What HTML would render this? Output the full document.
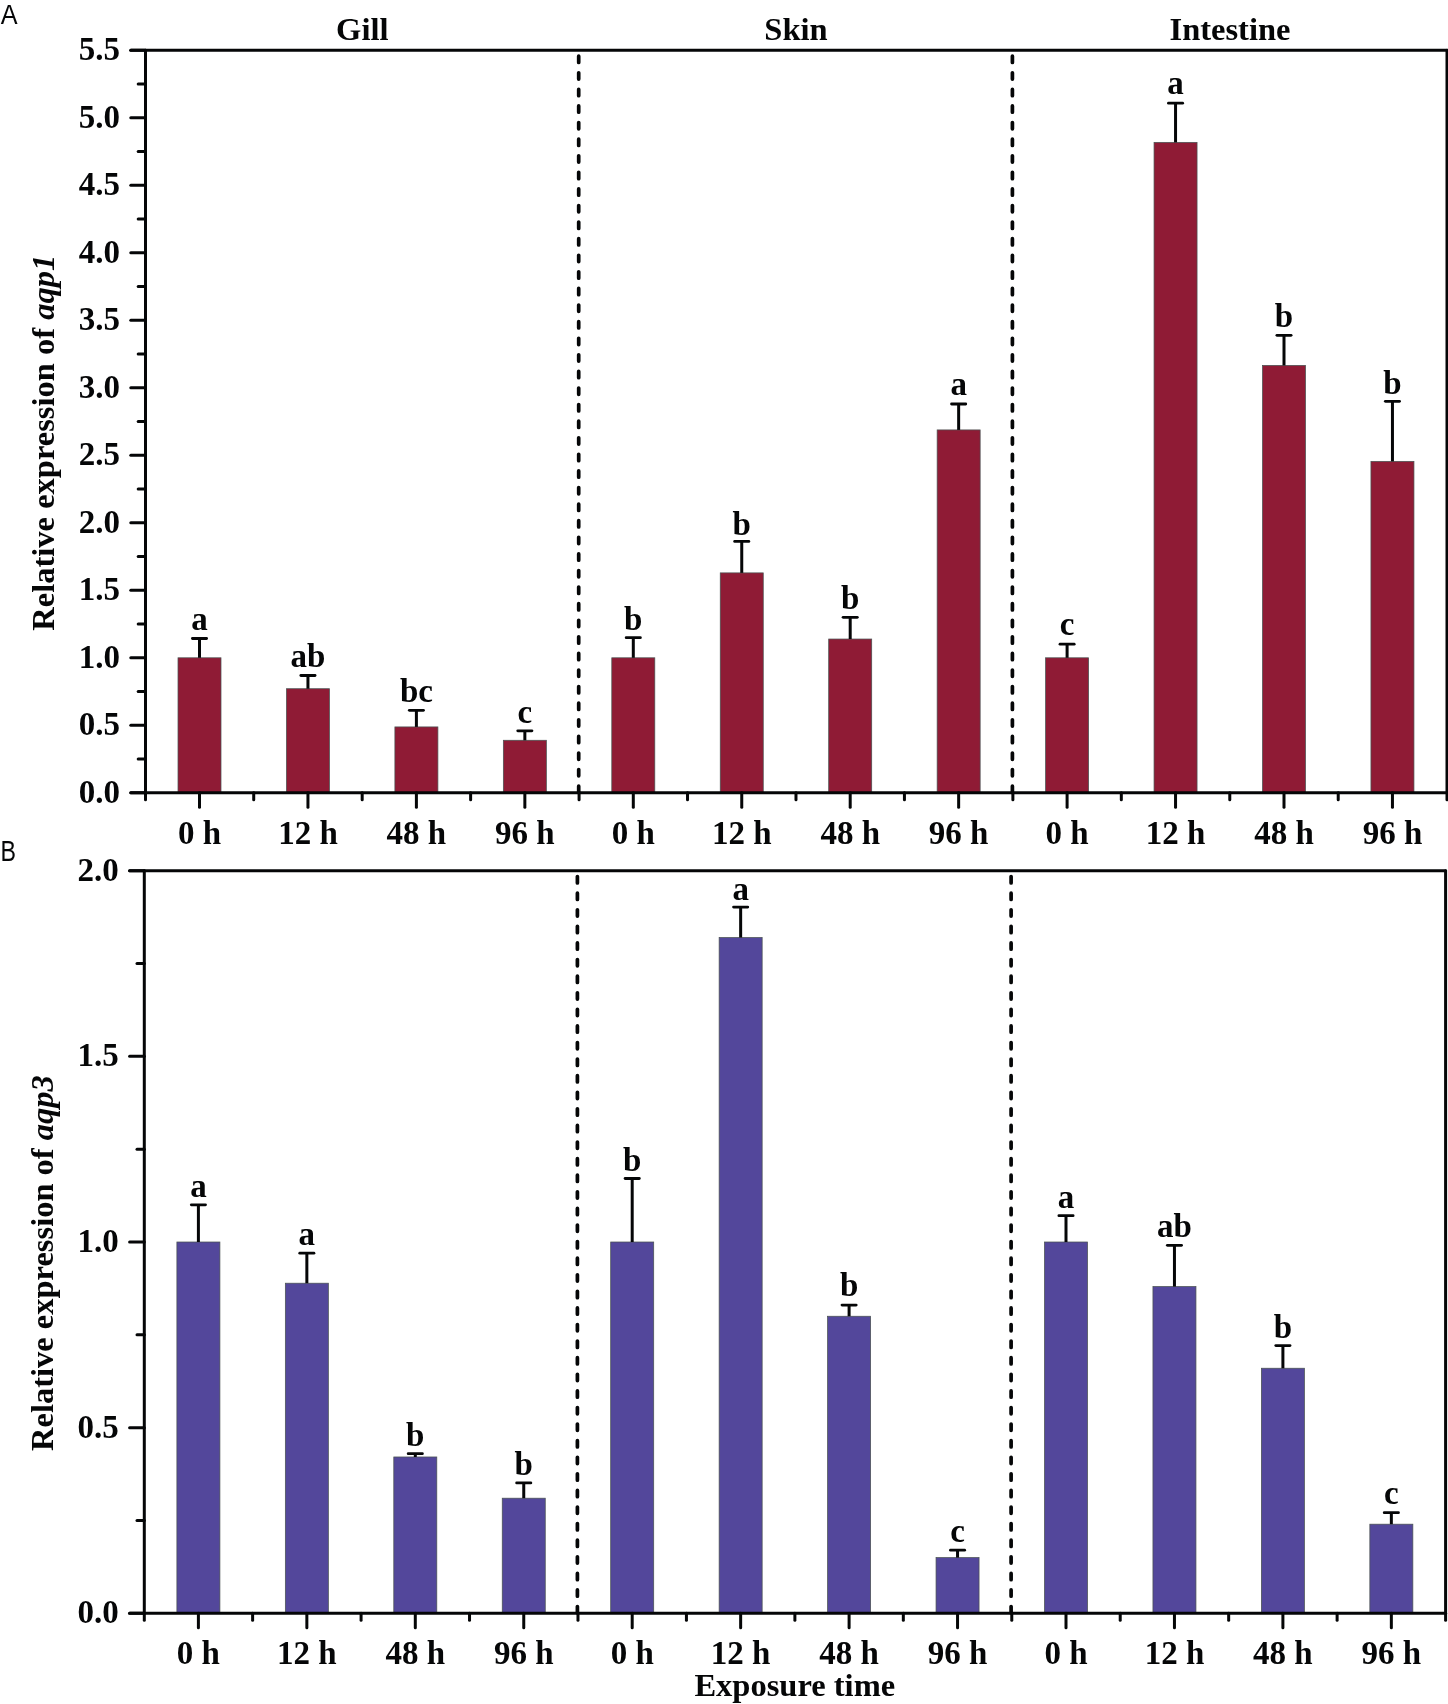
<!DOCTYPE html>
<html><head><meta charset="utf-8"><style>
html,body{margin:0;padding:0;background:#fff;}
body{width:1448px;height:1704px;overflow:hidden;}
svg{display:block;will-change:transform;}
</style></head><body>
<svg width="1448" height="1704" viewBox="0 0 1448 1704" font-family='"Liberation Serif", serif' font-weight="bold" fill="#050607">
<rect x="0" y="0" width="1448" height="1704" fill="#fff"/>
<rect x="178.00" y="657.80" width="43.00" height="135.00" fill="#8f1b35" stroke="#4a5252" stroke-width="0.75"/>
<line x1="199.50" y1="657.80" x2="199.50" y2="638.49" stroke="#050607" stroke-width="3" stroke-linecap="butt" />
<line x1="192.40" y1="638.49" x2="206.60" y2="638.49" stroke="#050607" stroke-width="2.8" stroke-linecap="round" />
<text x="199.50" y="629.80" text-anchor="middle" font-size="33" >a</text>
<rect x="286.45" y="688.71" width="43.00" height="104.09" fill="#8f1b35" stroke="#4a5252" stroke-width="0.75"/>
<line x1="307.95" y1="688.71" x2="307.95" y2="675.48" stroke="#050607" stroke-width="3" stroke-linecap="butt" />
<line x1="300.85" y1="675.48" x2="315.05" y2="675.48" stroke="#050607" stroke-width="2.8" stroke-linecap="round" />
<text x="307.95" y="666.70" text-anchor="middle" font-size="33" >ab</text>
<rect x="394.90" y="726.92" width="43.00" height="65.88" fill="#8f1b35" stroke="#4a5252" stroke-width="0.75"/>
<line x1="416.40" y1="726.92" x2="416.40" y2="710.31" stroke="#050607" stroke-width="3" stroke-linecap="butt" />
<line x1="409.30" y1="710.31" x2="423.50" y2="710.31" stroke="#050607" stroke-width="2.8" stroke-linecap="round" />
<text x="416.40" y="702.10" text-anchor="middle" font-size="33" >bc</text>
<rect x="503.35" y="740.28" width="43.00" height="52.51" fill="#8f1b35" stroke="#4a5252" stroke-width="0.75"/>
<line x1="524.85" y1="740.28" x2="524.85" y2="730.83" stroke="#050607" stroke-width="3" stroke-linecap="butt" />
<line x1="517.75" y1="730.83" x2="531.95" y2="730.83" stroke="#050607" stroke-width="2.8" stroke-linecap="round" />
<text x="524.85" y="722.80" text-anchor="middle" font-size="33" >c</text>
<rect x="611.80" y="657.80" width="43.00" height="135.00" fill="#8f1b35" stroke="#4a5252" stroke-width="0.75"/>
<line x1="633.30" y1="657.80" x2="633.30" y2="637.68" stroke="#050607" stroke-width="3" stroke-linecap="butt" />
<line x1="626.20" y1="637.68" x2="640.40" y2="637.68" stroke="#050607" stroke-width="2.8" stroke-linecap="round" />
<text x="633.30" y="629.80" text-anchor="middle" font-size="33" >b</text>
<rect x="720.25" y="572.88" width="43.00" height="219.91" fill="#8f1b35" stroke="#4a5252" stroke-width="0.75"/>
<line x1="741.75" y1="572.88" x2="741.75" y2="541.43" stroke="#050607" stroke-width="3" stroke-linecap="butt" />
<line x1="734.65" y1="541.43" x2="748.85" y2="541.43" stroke="#050607" stroke-width="2.8" stroke-linecap="round" />
<text x="741.75" y="534.50" text-anchor="middle" font-size="33" >b</text>
<rect x="828.70" y="639.03" width="43.00" height="153.76" fill="#8f1b35" stroke="#4a5252" stroke-width="0.75"/>
<line x1="850.20" y1="639.03" x2="850.20" y2="617.30" stroke="#050607" stroke-width="3" stroke-linecap="butt" />
<line x1="843.10" y1="617.30" x2="857.30" y2="617.30" stroke="#050607" stroke-width="2.8" stroke-linecap="round" />
<text x="850.20" y="609.00" text-anchor="middle" font-size="33" >b</text>
<rect x="937.15" y="429.92" width="43.00" height="362.88" fill="#8f1b35" stroke="#4a5252" stroke-width="0.75"/>
<line x1="958.65" y1="429.92" x2="958.65" y2="404.00" stroke="#050607" stroke-width="3" stroke-linecap="butt" />
<line x1="951.55" y1="404.00" x2="965.75" y2="404.00" stroke="#050607" stroke-width="2.8" stroke-linecap="round" />
<text x="958.65" y="395.20" text-anchor="middle" font-size="33" >a</text>
<rect x="1045.60" y="657.80" width="43.00" height="135.00" fill="#8f1b35" stroke="#4a5252" stroke-width="0.75"/>
<line x1="1067.10" y1="657.80" x2="1067.10" y2="644.16" stroke="#050607" stroke-width="3" stroke-linecap="butt" />
<line x1="1060.00" y1="644.16" x2="1074.20" y2="644.16" stroke="#050607" stroke-width="2.8" stroke-linecap="round" />
<text x="1067.10" y="634.90" text-anchor="middle" font-size="33" >c</text>
<rect x="1154.05" y="142.37" width="43.00" height="650.43" fill="#8f1b35" stroke="#4a5252" stroke-width="0.75"/>
<line x1="1175.55" y1="142.37" x2="1175.55" y2="103.22" stroke="#050607" stroke-width="3" stroke-linecap="butt" />
<line x1="1168.45" y1="103.22" x2="1182.65" y2="103.22" stroke="#050607" stroke-width="2.8" stroke-linecap="round" />
<text x="1175.55" y="93.80" text-anchor="middle" font-size="33" >a</text>
<rect x="1262.50" y="365.39" width="43.00" height="427.41" fill="#8f1b35" stroke="#4a5252" stroke-width="0.75"/>
<line x1="1284.00" y1="365.39" x2="1284.00" y2="335.28" stroke="#050607" stroke-width="3" stroke-linecap="butt" />
<line x1="1276.90" y1="335.28" x2="1291.10" y2="335.28" stroke="#050607" stroke-width="2.8" stroke-linecap="round" />
<text x="1284.00" y="327.30" text-anchor="middle" font-size="33" >b</text>
<rect x="1370.95" y="461.37" width="43.00" height="331.43" fill="#8f1b35" stroke="#4a5252" stroke-width="0.75"/>
<line x1="1392.45" y1="461.37" x2="1392.45" y2="401.30" stroke="#050607" stroke-width="3" stroke-linecap="butt" />
<line x1="1385.35" y1="401.30" x2="1399.55" y2="401.30" stroke="#050607" stroke-width="2.8" stroke-linecap="round" />
<text x="1392.45" y="393.60" text-anchor="middle" font-size="33" >b</text>
<line x1="578.70" y1="56.20" x2="578.70" y2="792.80" stroke="#050607" stroke-width="3.7" stroke-linecap="round" stroke-dasharray="6.3 10.29"/>
<line x1="1012.40" y1="56.20" x2="1012.40" y2="792.80" stroke="#050607" stroke-width="3.7" stroke-linecap="round" stroke-dasharray="6.3 10.29"/>
<line x1="145.50" y1="50.30" x2="145.50" y2="799.80" stroke="#050607" stroke-width="3" stroke-linecap="round" />
<line x1="1447.00" y1="50.30" x2="1447.00" y2="799.80" stroke="#050607" stroke-width="3" stroke-linecap="round" />
<line x1="130.80" y1="50.30" x2="1447.00" y2="50.30" stroke="#050607" stroke-width="3" stroke-linecap="round" />
<line x1="130.80" y1="792.80" x2="1447.00" y2="792.80" stroke="#050607" stroke-width="3" stroke-linecap="round" />
<line x1="130.80" y1="792.80" x2="145.50" y2="792.80" stroke="#050607" stroke-width="3" stroke-linecap="round" />
<text x="120.00" y="802.80" text-anchor="end" font-size="33" >0.0</text>
<line x1="138.20" y1="759.05" x2="145.50" y2="759.05" stroke="#050607" stroke-width="3" stroke-linecap="round" />
<line x1="130.80" y1="725.30" x2="145.50" y2="725.30" stroke="#050607" stroke-width="3" stroke-linecap="round" />
<text x="120.00" y="735.30" text-anchor="end" font-size="33" >0.5</text>
<line x1="138.20" y1="691.55" x2="145.50" y2="691.55" stroke="#050607" stroke-width="3" stroke-linecap="round" />
<line x1="130.80" y1="657.80" x2="145.50" y2="657.80" stroke="#050607" stroke-width="3" stroke-linecap="round" />
<text x="120.00" y="667.80" text-anchor="end" font-size="33" >1.0</text>
<line x1="138.20" y1="624.05" x2="145.50" y2="624.05" stroke="#050607" stroke-width="3" stroke-linecap="round" />
<line x1="130.80" y1="590.30" x2="145.50" y2="590.30" stroke="#050607" stroke-width="3" stroke-linecap="round" />
<text x="120.00" y="600.30" text-anchor="end" font-size="33" >1.5</text>
<line x1="138.20" y1="556.55" x2="145.50" y2="556.55" stroke="#050607" stroke-width="3" stroke-linecap="round" />
<line x1="130.80" y1="522.80" x2="145.50" y2="522.80" stroke="#050607" stroke-width="3" stroke-linecap="round" />
<text x="120.00" y="532.80" text-anchor="end" font-size="33" >2.0</text>
<line x1="138.20" y1="489.05" x2="145.50" y2="489.05" stroke="#050607" stroke-width="3" stroke-linecap="round" />
<line x1="130.80" y1="455.30" x2="145.50" y2="455.30" stroke="#050607" stroke-width="3" stroke-linecap="round" />
<text x="120.00" y="465.30" text-anchor="end" font-size="33" >2.5</text>
<line x1="138.20" y1="421.55" x2="145.50" y2="421.55" stroke="#050607" stroke-width="3" stroke-linecap="round" />
<line x1="130.80" y1="387.80" x2="145.50" y2="387.80" stroke="#050607" stroke-width="3" stroke-linecap="round" />
<text x="120.00" y="397.80" text-anchor="end" font-size="33" >3.0</text>
<line x1="138.20" y1="354.05" x2="145.50" y2="354.05" stroke="#050607" stroke-width="3" stroke-linecap="round" />
<line x1="130.80" y1="320.30" x2="145.50" y2="320.30" stroke="#050607" stroke-width="3" stroke-linecap="round" />
<text x="120.00" y="330.30" text-anchor="end" font-size="33" >3.5</text>
<line x1="138.20" y1="286.55" x2="145.50" y2="286.55" stroke="#050607" stroke-width="3" stroke-linecap="round" />
<line x1="130.80" y1="252.80" x2="145.50" y2="252.80" stroke="#050607" stroke-width="3" stroke-linecap="round" />
<text x="120.00" y="262.80" text-anchor="end" font-size="33" >4.0</text>
<line x1="138.20" y1="219.05" x2="145.50" y2="219.05" stroke="#050607" stroke-width="3" stroke-linecap="round" />
<line x1="130.80" y1="185.30" x2="145.50" y2="185.30" stroke="#050607" stroke-width="3" stroke-linecap="round" />
<text x="120.00" y="195.30" text-anchor="end" font-size="33" >4.5</text>
<line x1="138.20" y1="151.55" x2="145.50" y2="151.55" stroke="#050607" stroke-width="3" stroke-linecap="round" />
<line x1="130.80" y1="117.80" x2="145.50" y2="117.80" stroke="#050607" stroke-width="3" stroke-linecap="round" />
<text x="120.00" y="127.80" text-anchor="end" font-size="33" >5.0</text>
<line x1="138.20" y1="84.05" x2="145.50" y2="84.05" stroke="#050607" stroke-width="3" stroke-linecap="round" />
<line x1="130.80" y1="50.30" x2="145.50" y2="50.30" stroke="#050607" stroke-width="3" stroke-linecap="round" />
<text x="120.00" y="60.30" text-anchor="end" font-size="33" >5.5</text>
<line x1="199.50" y1="792.80" x2="199.50" y2="807.30" stroke="#050607" stroke-width="3" stroke-linecap="round" />
<text x="199.50" y="843.60" text-anchor="middle" font-size="33" >0 h</text>
<line x1="253.72" y1="792.80" x2="253.72" y2="799.80" stroke="#050607" stroke-width="3" stroke-linecap="round" />
<line x1="307.95" y1="792.80" x2="307.95" y2="807.30" stroke="#050607" stroke-width="3" stroke-linecap="round" />
<text x="307.95" y="843.60" text-anchor="middle" font-size="33" >12 h</text>
<line x1="362.18" y1="792.80" x2="362.18" y2="799.80" stroke="#050607" stroke-width="3" stroke-linecap="round" />
<line x1="416.40" y1="792.80" x2="416.40" y2="807.30" stroke="#050607" stroke-width="3" stroke-linecap="round" />
<text x="416.40" y="843.60" text-anchor="middle" font-size="33" >48 h</text>
<line x1="470.62" y1="792.80" x2="470.62" y2="799.80" stroke="#050607" stroke-width="3" stroke-linecap="round" />
<line x1="524.85" y1="792.80" x2="524.85" y2="807.30" stroke="#050607" stroke-width="3" stroke-linecap="round" />
<text x="524.85" y="843.60" text-anchor="middle" font-size="33" >96 h</text>
<line x1="579.08" y1="792.80" x2="579.08" y2="799.80" stroke="#050607" stroke-width="3" stroke-linecap="round" />
<line x1="633.30" y1="792.80" x2="633.30" y2="807.30" stroke="#050607" stroke-width="3" stroke-linecap="round" />
<text x="633.30" y="843.60" text-anchor="middle" font-size="33" >0 h</text>
<line x1="687.52" y1="792.80" x2="687.52" y2="799.80" stroke="#050607" stroke-width="3" stroke-linecap="round" />
<line x1="741.75" y1="792.80" x2="741.75" y2="807.30" stroke="#050607" stroke-width="3" stroke-linecap="round" />
<text x="741.75" y="843.60" text-anchor="middle" font-size="33" >12 h</text>
<line x1="795.98" y1="792.80" x2="795.98" y2="799.80" stroke="#050607" stroke-width="3" stroke-linecap="round" />
<line x1="850.20" y1="792.80" x2="850.20" y2="807.30" stroke="#050607" stroke-width="3" stroke-linecap="round" />
<text x="850.20" y="843.60" text-anchor="middle" font-size="33" >48 h</text>
<line x1="904.43" y1="792.80" x2="904.43" y2="799.80" stroke="#050607" stroke-width="3" stroke-linecap="round" />
<line x1="958.65" y1="792.80" x2="958.65" y2="807.30" stroke="#050607" stroke-width="3" stroke-linecap="round" />
<text x="958.65" y="843.60" text-anchor="middle" font-size="33" >96 h</text>
<line x1="1012.88" y1="792.80" x2="1012.88" y2="799.80" stroke="#050607" stroke-width="3" stroke-linecap="round" />
<line x1="1067.10" y1="792.80" x2="1067.10" y2="807.30" stroke="#050607" stroke-width="3" stroke-linecap="round" />
<text x="1067.10" y="843.60" text-anchor="middle" font-size="33" >0 h</text>
<line x1="1121.32" y1="792.80" x2="1121.32" y2="799.80" stroke="#050607" stroke-width="3" stroke-linecap="round" />
<line x1="1175.55" y1="792.80" x2="1175.55" y2="807.30" stroke="#050607" stroke-width="3" stroke-linecap="round" />
<text x="1175.55" y="843.60" text-anchor="middle" font-size="33" >12 h</text>
<line x1="1229.78" y1="792.80" x2="1229.78" y2="799.80" stroke="#050607" stroke-width="3" stroke-linecap="round" />
<line x1="1284.00" y1="792.80" x2="1284.00" y2="807.30" stroke="#050607" stroke-width="3" stroke-linecap="round" />
<text x="1284.00" y="843.60" text-anchor="middle" font-size="33" >48 h</text>
<line x1="1338.22" y1="792.80" x2="1338.22" y2="799.80" stroke="#050607" stroke-width="3" stroke-linecap="round" />
<line x1="1392.45" y1="792.80" x2="1392.45" y2="807.30" stroke="#050607" stroke-width="3" stroke-linecap="round" />
<text x="1392.45" y="843.60" text-anchor="middle" font-size="33" >96 h</text>
<rect x="176.90" y="1242.00" width="43.00" height="371.30" fill="#53479b" stroke="#4a5252" stroke-width="0.75"/>
<line x1="198.40" y1="1242.00" x2="198.40" y2="1204.87" stroke="#050607" stroke-width="3" stroke-linecap="butt" />
<line x1="191.30" y1="1204.87" x2="205.50" y2="1204.87" stroke="#050607" stroke-width="2.8" stroke-linecap="round" />
<text x="198.40" y="1196.60" text-anchor="middle" font-size="33" >a</text>
<rect x="285.35" y="1283.21" width="43.00" height="330.09" fill="#53479b" stroke="#4a5252" stroke-width="0.75"/>
<line x1="306.85" y1="1283.21" x2="306.85" y2="1253.14" stroke="#050607" stroke-width="3" stroke-linecap="butt" />
<line x1="299.75" y1="1253.14" x2="313.95" y2="1253.14" stroke="#050607" stroke-width="2.8" stroke-linecap="round" />
<text x="306.85" y="1244.90" text-anchor="middle" font-size="33" >a</text>
<rect x="393.80" y="1456.98" width="43.00" height="156.32" fill="#53479b" stroke="#4a5252" stroke-width="0.75"/>
<line x1="415.30" y1="1456.98" x2="415.30" y2="1453.64" stroke="#050607" stroke-width="3" stroke-linecap="butt" />
<line x1="408.20" y1="1453.64" x2="422.40" y2="1453.64" stroke="#050607" stroke-width="2.8" stroke-linecap="round" />
<text x="415.30" y="1445.60" text-anchor="middle" font-size="33" >b</text>
<rect x="502.25" y="1498.20" width="43.00" height="115.10" fill="#53479b" stroke="#4a5252" stroke-width="0.75"/>
<line x1="523.75" y1="1498.20" x2="523.75" y2="1482.97" stroke="#050607" stroke-width="3" stroke-linecap="butt" />
<line x1="516.65" y1="1482.97" x2="530.85" y2="1482.97" stroke="#050607" stroke-width="2.8" stroke-linecap="round" />
<text x="523.75" y="1474.90" text-anchor="middle" font-size="33" >b</text>
<rect x="610.70" y="1242.00" width="43.00" height="371.30" fill="#53479b" stroke="#4a5252" stroke-width="0.75"/>
<line x1="632.20" y1="1242.00" x2="632.20" y2="1178.51" stroke="#050607" stroke-width="3" stroke-linecap="butt" />
<line x1="625.10" y1="1178.51" x2="639.30" y2="1178.51" stroke="#050607" stroke-width="2.8" stroke-linecap="round" />
<text x="632.20" y="1170.50" text-anchor="middle" font-size="33" >b</text>
<rect x="719.15" y="937.53" width="43.00" height="675.77" fill="#53479b" stroke="#4a5252" stroke-width="0.75"/>
<line x1="740.65" y1="937.53" x2="740.65" y2="907.09" stroke="#050607" stroke-width="3" stroke-linecap="butt" />
<line x1="733.55" y1="907.09" x2="747.75" y2="907.09" stroke="#050607" stroke-width="2.8" stroke-linecap="round" />
<text x="740.65" y="899.70" text-anchor="middle" font-size="33" >a</text>
<rect x="827.60" y="1316.26" width="43.00" height="297.04" fill="#53479b" stroke="#4a5252" stroke-width="0.75"/>
<line x1="849.10" y1="1316.26" x2="849.10" y2="1305.12" stroke="#050607" stroke-width="3" stroke-linecap="butt" />
<line x1="842.00" y1="1305.12" x2="856.20" y2="1305.12" stroke="#050607" stroke-width="2.8" stroke-linecap="round" />
<text x="849.10" y="1296.10" text-anchor="middle" font-size="33" >b</text>
<rect x="936.05" y="1557.61" width="43.00" height="55.69" fill="#53479b" stroke="#4a5252" stroke-width="0.75"/>
<line x1="957.55" y1="1557.61" x2="957.55" y2="1550.18" stroke="#050607" stroke-width="3" stroke-linecap="butt" />
<line x1="950.45" y1="1550.18" x2="964.65" y2="1550.18" stroke="#050607" stroke-width="2.8" stroke-linecap="round" />
<text x="957.55" y="1541.70" text-anchor="middle" font-size="33" >c</text>
<rect x="1044.50" y="1242.00" width="43.00" height="371.30" fill="#53479b" stroke="#4a5252" stroke-width="0.75"/>
<line x1="1066.00" y1="1242.00" x2="1066.00" y2="1215.64" stroke="#050607" stroke-width="3" stroke-linecap="butt" />
<line x1="1058.90" y1="1215.64" x2="1073.10" y2="1215.64" stroke="#050607" stroke-width="2.8" stroke-linecap="round" />
<text x="1066.00" y="1208.30" text-anchor="middle" font-size="33" >a</text>
<rect x="1152.95" y="1286.56" width="43.00" height="326.74" fill="#53479b" stroke="#4a5252" stroke-width="0.75"/>
<line x1="1174.45" y1="1286.56" x2="1174.45" y2="1245.34" stroke="#050607" stroke-width="3" stroke-linecap="butt" />
<line x1="1167.35" y1="1245.34" x2="1181.55" y2="1245.34" stroke="#050607" stroke-width="2.8" stroke-linecap="round" />
<text x="1174.45" y="1237.30" text-anchor="middle" font-size="33" >ab</text>
<rect x="1261.40" y="1368.24" width="43.00" height="245.06" fill="#53479b" stroke="#4a5252" stroke-width="0.75"/>
<line x1="1282.90" y1="1368.24" x2="1282.90" y2="1345.59" stroke="#050607" stroke-width="3" stroke-linecap="butt" />
<line x1="1275.80" y1="1345.59" x2="1290.00" y2="1345.59" stroke="#050607" stroke-width="2.8" stroke-linecap="round" />
<text x="1282.90" y="1338.10" text-anchor="middle" font-size="33" >b</text>
<rect x="1369.85" y="1524.19" width="43.00" height="89.11" fill="#53479b" stroke="#4a5252" stroke-width="0.75"/>
<line x1="1391.35" y1="1524.19" x2="1391.35" y2="1512.68" stroke="#050607" stroke-width="3" stroke-linecap="butt" />
<line x1="1384.25" y1="1512.68" x2="1398.45" y2="1512.68" stroke="#050607" stroke-width="2.8" stroke-linecap="round" />
<text x="1391.35" y="1504.40" text-anchor="middle" font-size="33" >c</text>
<line x1="577.40" y1="876.60" x2="577.40" y2="1613.30" stroke="#050607" stroke-width="3.7" stroke-linecap="round" stroke-dasharray="6.3 10.29"/>
<line x1="1011.10" y1="876.60" x2="1011.10" y2="1613.30" stroke="#050607" stroke-width="3.7" stroke-linecap="round" stroke-dasharray="6.3 10.29"/>
<line x1="144.30" y1="870.70" x2="144.30" y2="1620.30" stroke="#050607" stroke-width="3" stroke-linecap="round" />
<line x1="1445.60" y1="870.70" x2="1445.60" y2="1620.30" stroke="#050607" stroke-width="3" stroke-linecap="round" />
<line x1="129.60" y1="870.70" x2="1445.60" y2="870.70" stroke="#050607" stroke-width="3" stroke-linecap="round" />
<line x1="129.60" y1="1613.30" x2="1445.60" y2="1613.30" stroke="#050607" stroke-width="3" stroke-linecap="round" />
<line x1="129.60" y1="1613.30" x2="144.30" y2="1613.30" stroke="#050607" stroke-width="3" stroke-linecap="round" />
<text x="118.80" y="1623.30" text-anchor="end" font-size="33" >0.0</text>
<line x1="137.00" y1="1520.47" x2="144.30" y2="1520.47" stroke="#050607" stroke-width="3" stroke-linecap="round" />
<line x1="129.60" y1="1427.65" x2="144.30" y2="1427.65" stroke="#050607" stroke-width="3" stroke-linecap="round" />
<text x="118.80" y="1437.65" text-anchor="end" font-size="33" >0.5</text>
<line x1="137.00" y1="1334.83" x2="144.30" y2="1334.83" stroke="#050607" stroke-width="3" stroke-linecap="round" />
<line x1="129.60" y1="1242.00" x2="144.30" y2="1242.00" stroke="#050607" stroke-width="3" stroke-linecap="round" />
<text x="118.80" y="1252.00" text-anchor="end" font-size="33" >1.0</text>
<line x1="137.00" y1="1149.17" x2="144.30" y2="1149.17" stroke="#050607" stroke-width="3" stroke-linecap="round" />
<line x1="129.60" y1="1056.35" x2="144.30" y2="1056.35" stroke="#050607" stroke-width="3" stroke-linecap="round" />
<text x="118.80" y="1066.35" text-anchor="end" font-size="33" >1.5</text>
<line x1="137.00" y1="963.53" x2="144.30" y2="963.53" stroke="#050607" stroke-width="3" stroke-linecap="round" />
<line x1="129.60" y1="870.70" x2="144.30" y2="870.70" stroke="#050607" stroke-width="3" stroke-linecap="round" />
<text x="118.80" y="880.70" text-anchor="end" font-size="33" >2.0</text>
<line x1="198.40" y1="1613.30" x2="198.40" y2="1627.80" stroke="#050607" stroke-width="3" stroke-linecap="round" />
<text x="198.40" y="1664.00" text-anchor="middle" font-size="33" >0 h</text>
<line x1="252.62" y1="1613.30" x2="252.62" y2="1620.30" stroke="#050607" stroke-width="3" stroke-linecap="round" />
<line x1="306.85" y1="1613.30" x2="306.85" y2="1627.80" stroke="#050607" stroke-width="3" stroke-linecap="round" />
<text x="306.85" y="1664.00" text-anchor="middle" font-size="33" >12 h</text>
<line x1="361.08" y1="1613.30" x2="361.08" y2="1620.30" stroke="#050607" stroke-width="3" stroke-linecap="round" />
<line x1="415.30" y1="1613.30" x2="415.30" y2="1627.80" stroke="#050607" stroke-width="3" stroke-linecap="round" />
<text x="415.30" y="1664.00" text-anchor="middle" font-size="33" >48 h</text>
<line x1="469.53" y1="1613.30" x2="469.53" y2="1620.30" stroke="#050607" stroke-width="3" stroke-linecap="round" />
<line x1="523.75" y1="1613.30" x2="523.75" y2="1627.80" stroke="#050607" stroke-width="3" stroke-linecap="round" />
<text x="523.75" y="1664.00" text-anchor="middle" font-size="33" >96 h</text>
<line x1="577.98" y1="1613.30" x2="577.98" y2="1620.30" stroke="#050607" stroke-width="3" stroke-linecap="round" />
<line x1="632.20" y1="1613.30" x2="632.20" y2="1627.80" stroke="#050607" stroke-width="3" stroke-linecap="round" />
<text x="632.20" y="1664.00" text-anchor="middle" font-size="33" >0 h</text>
<line x1="686.43" y1="1613.30" x2="686.43" y2="1620.30" stroke="#050607" stroke-width="3" stroke-linecap="round" />
<line x1="740.65" y1="1613.30" x2="740.65" y2="1627.80" stroke="#050607" stroke-width="3" stroke-linecap="round" />
<text x="740.65" y="1664.00" text-anchor="middle" font-size="33" >12 h</text>
<line x1="794.88" y1="1613.30" x2="794.88" y2="1620.30" stroke="#050607" stroke-width="3" stroke-linecap="round" />
<line x1="849.10" y1="1613.30" x2="849.10" y2="1627.80" stroke="#050607" stroke-width="3" stroke-linecap="round" />
<text x="849.10" y="1664.00" text-anchor="middle" font-size="33" >48 h</text>
<line x1="903.33" y1="1613.30" x2="903.33" y2="1620.30" stroke="#050607" stroke-width="3" stroke-linecap="round" />
<line x1="957.55" y1="1613.30" x2="957.55" y2="1627.80" stroke="#050607" stroke-width="3" stroke-linecap="round" />
<text x="957.55" y="1664.00" text-anchor="middle" font-size="33" >96 h</text>
<line x1="1011.77" y1="1613.30" x2="1011.77" y2="1620.30" stroke="#050607" stroke-width="3" stroke-linecap="round" />
<line x1="1066.00" y1="1613.30" x2="1066.00" y2="1627.80" stroke="#050607" stroke-width="3" stroke-linecap="round" />
<text x="1066.00" y="1664.00" text-anchor="middle" font-size="33" >0 h</text>
<line x1="1120.22" y1="1613.30" x2="1120.22" y2="1620.30" stroke="#050607" stroke-width="3" stroke-linecap="round" />
<line x1="1174.45" y1="1613.30" x2="1174.45" y2="1627.80" stroke="#050607" stroke-width="3" stroke-linecap="round" />
<text x="1174.45" y="1664.00" text-anchor="middle" font-size="33" >12 h</text>
<line x1="1228.67" y1="1613.30" x2="1228.67" y2="1620.30" stroke="#050607" stroke-width="3" stroke-linecap="round" />
<line x1="1282.90" y1="1613.30" x2="1282.90" y2="1627.80" stroke="#050607" stroke-width="3" stroke-linecap="round" />
<text x="1282.90" y="1664.00" text-anchor="middle" font-size="33" >48 h</text>
<line x1="1337.12" y1="1613.30" x2="1337.12" y2="1620.30" stroke="#050607" stroke-width="3" stroke-linecap="round" />
<line x1="1391.35" y1="1613.30" x2="1391.35" y2="1627.80" stroke="#050607" stroke-width="3" stroke-linecap="round" />
<text x="1391.35" y="1664.00" text-anchor="middle" font-size="33" >96 h</text>
<text x="362.30" y="40.40" text-anchor="middle" font-size="32.5" >Gill</text>
<text x="796.00" y="40.40" text-anchor="middle" font-size="32.5" >Skin</text>
<text x="1230.00" y="40.40" text-anchor="middle" font-size="32.5" >Intestine</text>
<text transform="translate(54,630.7) rotate(-90)" text-anchor="start" font-size="32.5">Relative expression of <tspan font-style="italic">aqp1</tspan></text>
<text transform="translate(52.6,1451) rotate(-90)" text-anchor="start" font-size="32.5">Relative expression of <tspan font-style="italic">aqp3</tspan></text>
<text x="794.80" y="1696.30" text-anchor="middle" font-size="32.5" >Exposure time</text>
<text transform="translate(0.8,24.3) scale(0.885,1)" font-family="&quot;Liberation Sans&quot;, sans-serif" font-weight="normal" font-size="28.5">A</text>
<text transform="translate(0.6,860.7) scale(0.8,1)" font-family="&quot;Liberation Sans&quot;, sans-serif" font-weight="normal" font-size="29">B</text>
</svg>
</body></html>
